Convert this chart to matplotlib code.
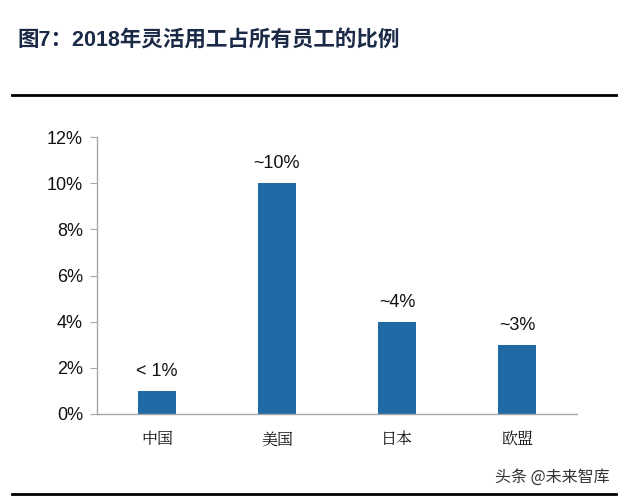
import matplotlib
matplotlib.use("Agg")
import matplotlib.pyplot as plt
from matplotlib.ticker import FuncFormatter

categories = ["中国", "美国", "日本", "欧盟"]
values = [1, 10, 4, 3]
value_labels = ["< 1%", "~10%", "~4%", "~3%"]
yticks = [0, 2, 4, 6, 8, 10, 12]

plt.rcParams['font.family'] = ['Liberation Sans', 'Noto Sans CJK SC', 'DejaVu Sans']

fig = plt.figure(figsize=(6.25, 4.97), dpi=100)
ax = fig.add_axes([97/625, 1-414/497, 480/625, (414-137)/497])

bar_color = "#1F69A4"
x = list(range(len(categories)))
ax.bar(x, values, width=0.32, color=bar_color, zorder=2)
for xi, v, lab in zip(x, values, value_labels):
    ax.annotate(lab, (xi, v), xytext=(0, 8), textcoords="offset points",
                ha="center", va="bottom", fontsize=13, color="#111111")

ax.set_xlim(-0.5, 3.5)
ax.set_ylim(0, 12)
ax.set_yticks(yticks)
ax.yaxis.set_major_formatter(FuncFormatter(lambda v, p: f"{v:.0f}%"))
ax.set_xticks(x)
ax.set_xticklabels(categories, family=['Noto Serif CJK SC', 'Noto Sans CJK SC'], fontsize=11.5)
for s in ["top", "right"]:
    ax.spines[s].set_visible(False)
for s in ["left", "bottom"]:
    ax.spines[s].set_color("#A6A6A6")
    ax.spines[s].set_linewidth(1.0)
ax.tick_params(axis="y", length=5, color="#A6A6A6", labelsize=13, labelcolor="#111111", pad=5)
ax.tick_params(axis="x", length=0, pad=12, labelcolor="#111111")

fig.text(17/625, 1-40/497, "图7：2018年灵活用工占所有员工的比例", fontsize=15.5, fontweight="bold",
         color="#1B2A47", va="center", ha="left",
         family=['Liberation Sans', 'Noto Sans CJK SC'])
fig.add_artist(plt.Line2D([12/625, 616/625], [1-95/497, 1-95/497], color="black", lw=2))
fig.add_artist(plt.Line2D([12/625, 616/625], [1-494/497, 1-494/497], color="black", lw=2))
fig.text(610/625, 1-477/497, "头条 @未来智库", fontsize=11.5, color="#333333", ha="right", va="center",
         family=['Noto Sans CJK SC'])

fig.savefig("out.png", dpi=100)
